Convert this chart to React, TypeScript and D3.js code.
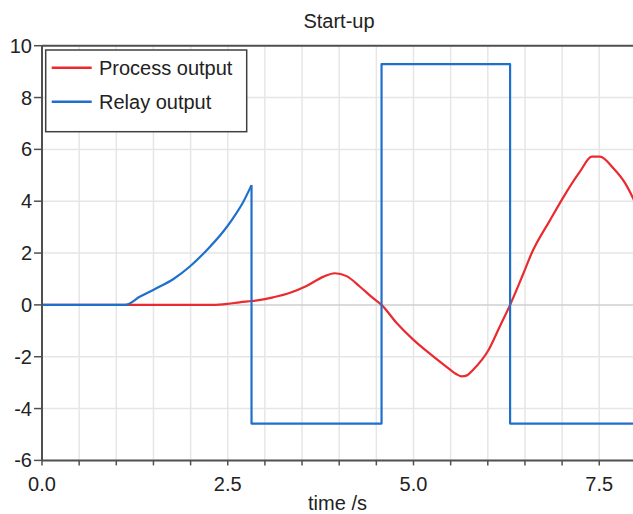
import React from "react";
import * as d3 from "d3";

const relayT = [0, 1.12, 1.32, 1.54, 1.77, 1.99, 2.22, 2.44, 2.57, 2.71, 2.82, 2.82, 4.57, 4.57, 6.3, 6.3, 8.0];
const relayV = [0, 0, 0.32, 0.64, 1.0, 1.48, 2.12, 2.83, 3.34, 3.98, 4.62, -4.58, -4.58, 9.29, 9.29, -4.58, -4.58];

const processT = [0, 2.3, 2.5, 2.66, 2.83, 3.0, 3.11, 3.34, 3.56, 3.79, 3.94, 4.1, 4.28, 4.46, 4.57, 4.77, 5.0, 5.24, 5.44, 5.58, 5.65, 5.72, 5.8, 6.01, 6.16, 6.3, 6.48, 6.59, 6.84, 7.02, 7.24, 7.4, 7.51, 7.69, 7.85, 8.0];
const processV = [0, 0, 0.04, 0.1, 0.15, 0.22, 0.29, 0.47, 0.73, 1.09, 1.22, 1.11, 0.7, 0.25, 0, -0.69, -1.35, -1.93, -2.38, -2.68, -2.76, -2.72, -2.51, -1.74, -0.84, 0.0, 1.22, 1.99, 3.28, 4.17, 5.14, 5.72, 5.72, 5.27, 4.69, 3.85];

const xTicks = [0, 2.5, 5, 7.5];
const xMinorTicks = d3.range(0, 8.01, 0.5);
const yTicks = [-6, -4, -2, 0, 2, 4, 6, 8, 10];

const seriesNames = ["Process output", "Relay output"];
const title = "Start-up";
const xLabel = "time /s";

const W = 633;
const H = 514;
const L = 42;
const T = 45.7;
const B = 460.4;
const R = 633;

export default function App() {
  const x = d3.scaleLinear().domain([0, 8]).range([L, L + 8 * 74.3]);
  const y = d3.scaleLinear().domain([-6, 10]).range([B, T]);
  const red = "#ea2a2e";
  const blue = "#1f6fcc";
  const font = "'Liberation Sans', Arial, sans-serif";
  const smooth = d3
    .line<[number, number]>()
    .x((d) => x(d[0]))
    .y((d) => y(d[1]))
    .curve(d3.curveMonotoneX);
  const straight = d3
    .line<[number, number]>()
    .x((d) => x(d[0]))
    .y((d) => y(d[1]));
  const proc = processT.map((t, i) => [t, processV[i]] as [number, number]);
  const relay = relayT.map((t, i) => [t, relayV[i]] as [number, number]);
  const relayRise = relay.slice(0, 11);
  const relaySteps = relay.slice(10);

  return (
    <div style={{ position: "fixed", left: 0, top: 0 }}>
      <svg width={W} height={H} style={{ display: "block", background: "#fff" }} fontFamily={font}>
        <defs>
          <clipPath id="plot">
            <rect x={L} y={T - 2} width={R - L} height={B - T + 4} />
          </clipPath>
        </defs>
        {/* grid */}
        {xMinorTicks.map((t) => (
          <line key={"gx" + t} x1={x(t)} x2={x(t)} y1={T} y2={B} stroke="#e6e6e6" strokeWidth={1.5} />
        ))}
        {yTicks.map((v) => (
          <line key={"gy" + v} x1={L} x2={R} y1={y(v)} y2={y(v)} stroke={v === 0 ? "#cfcfcf" : "#e6e6e6"} strokeWidth={1.5} />
        ))}
        {/* data */}
        <g clipPath="url(#plot)" fill="none" strokeWidth={2.2} strokeLinejoin="round">
          <path d={smooth(proc) || ""} stroke={red} />
          <path d={smooth(relayRise) || ""} stroke={blue} />
          <path d={straight(relaySteps) || ""} stroke={blue} />
        </g>
        {/* frame */}
        <line x1={L} x2={R} y1={T} y2={T} stroke="#505050" strokeWidth={2} />
        <line x1={L} x2={L} y1={T} y2={B} stroke="#505050" strokeWidth={2} />
        <line x1={L} x2={R} y1={B} y2={B} stroke="#505050" strokeWidth={2} />
        {/* y ticks */}
        {yTicks.map((v) => (
          <g key={"yt" + v}>
            <line x1={L - 8} x2={L} y1={y(v)} y2={y(v)} stroke="#505050" strokeWidth={1.5} />
            <text x={L - 10} y={y(v) + 7} textAnchor="end" fontSize={20} fill="#222">
              {v}
            </text>
          </g>
        ))}
        {/* x ticks */}
        {xMinorTicks.map((t) => (
          <line key={"xt" + t} x1={x(t)} x2={x(t)} y1={B} y2={B + 5} stroke="#505050" strokeWidth={1.5} />
        ))}
        {xTicks.map((t) => (
          <text key={"xl" + t} x={x(t)} y={490.5} textAnchor="middle" fontSize={20} fill="#222">
            {t.toFixed(1)}
          </text>
        ))}
        <text x={(L + R) / 2} y={510} textAnchor="middle" fontSize={20} fill="#222">
          {xLabel}
        </text>
        <text x={339} y={28} textAnchor="middle" fontSize={20} fill="#222">
          {title}
        </text>
        {/* legend */}
        <rect x={45.7} y={50} width={201} height={81.7} fill="#fff" stroke="#404040" strokeWidth={1.5} />
        {[red, blue].map((c, i) => (
          <g key={"lg" + i}>
            <line x1={51.7} x2={91.7} y1={67.7 + i * 34} y2={67.7 + i * 34} stroke={c} strokeWidth={2.5} />
            <text x={99} y={75 + i * 34} fontSize={20} fill="#222">
              {seriesNames[i]}
            </text>
          </g>
        ))}
      </svg>
    </div>
  );
}
